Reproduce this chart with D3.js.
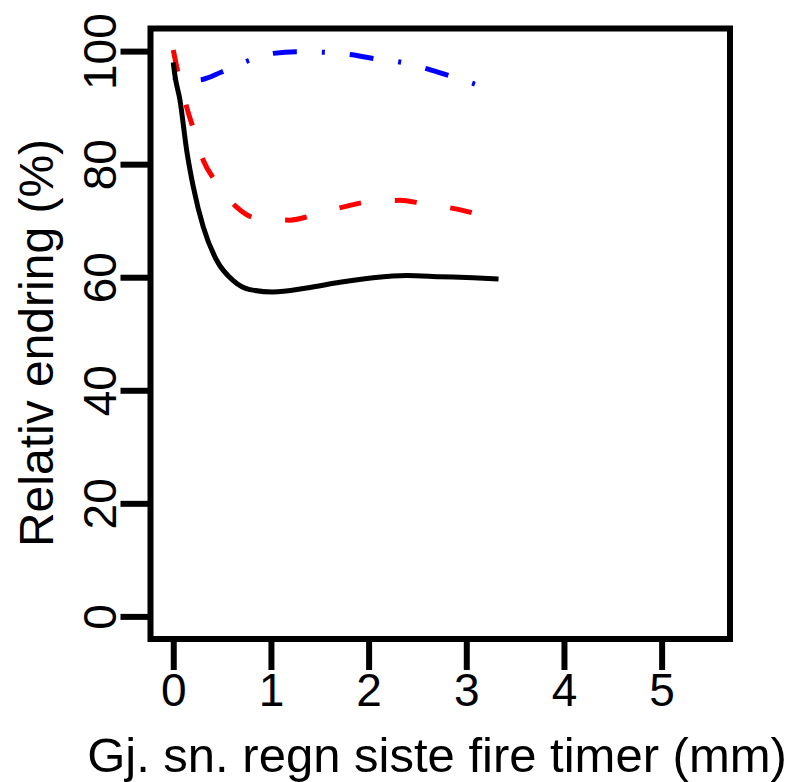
<!DOCTYPE html>
<html>
<head>
<meta charset="utf-8">
<script src="https://cdn.jsdelivr.net/npm/d3@7"></script>
<style>
  html, body { margin: 0; padding: 0; background: #ffffff; }
  text { font-family: "Liberation Sans", Arial, sans-serif; fill: #000; }
</style>
</head>
<body>
<div id="chart"></div>
<script>
// curves: x = mm rain (last four hours), y = relative change (%)
var solidX = [0, 0.017, 0.069, 0.137, 0.205, 0.307, 0.444, 0.614, 0.785, 1.02, 1.365, 1.706, 2.047, 2.389, 2.73, 3.07, 3.33];
var solidY = [98, 95.7, 91.3, 82.5, 76.0, 68.9, 63.0, 59.4, 57.8, 57.4, 58.1, 59.1, 59.9, 60.3, 60.1, 59.9, 59.7];

var dashX = [0, 0.051, 0.137, 0.205, 0.307, 0.427, 0.649, 0.836, 1.194, 1.416, 1.757, 1.98, 2.32, 2.56, 2.917, 3.17];
var dashY = [100.2, 96, 90.1, 86.3, 80.7, 77.1, 72.4, 70.5, 70.1, 70.9, 72.5, 73.3, 73.6, 73.0, 72.0, 70.9];

var dotdashX = [0, 0.15, 0.273, 0.495, 0.751, 1.024, 1.263, 1.535, 1.809, 2.047, 2.338, 2.61, 2.832, 3.1];
var dotdashY = [95.4, 94.8, 94.9, 96.3, 98.2, 99.6, 99.9, 99.8, 99.4, 98.7, 98.0, 96.8, 95.6, 94.1];

var xTicks = [0, 1, 2, 3, 4, 5];
var yTicks = [0, 20, 40, 60, 80, 100];

var xLabel = "Gj. sn. regn siste fire timer (mm)";
var yLabel = "Relativ endring (%)";

var W = 789, H = 782;
var box = {left: 150.5, right: 730, top: 28.5, bottom: 639};

var svg = d3.select("#chart").append("svg")
    .attr("width", W)
    .attr("height", H);
svg.append("rect").attr("width", W).attr("height", H).attr("fill", "#ffffff");

var xScale = d3.scaleLinear().domain([-0.233, 5.70]).range([box.left, box.right]);
var yScale = d3.scaleLinear().domain([-4, 104]).range([box.bottom, box.top]);

var line = d3.line()
    .x(function(d) { return xScale(d[0]); })
    .y(function(d) { return yScale(d[1]); })
    .curve(d3.curveMonotoneX);

var zip = function(xs, ys) {
  return xs.map(function(x, i) { return [x, ys[i]]; });
};

var series = [
  {pts: zip(dotdashX, dotdashY), color: "#0000ff", dash: "3,25,24,25"},
  {pts: zip(dashX, dashY), color: "#ff0000", dash: "22,34"},
  {pts: zip(solidX, solidY), color: "#000000", dash: null}
];

series.forEach(function(s) {
  svg.append("path")
    .attr("d", line(s.pts))
    .attr("fill", "none")
    .attr("stroke", s.color)
    .attr("stroke-width", 5)
    .attr("stroke-linecap", "butt")
    .attr("stroke-dasharray", s.dash);
});

// axes, R style: ticks outside the box
var xAxis = d3.axisBottom(xScale).tickValues(xTicks).tickSize(31).tickPadding(3).tickFormat(d3.format("d"));
var yAxis = d3.axisLeft(yScale).tickValues(yTicks).tickSize(30).tickPadding(5).tickFormat(d3.format("d"));

var gx = svg.append("g").attr("transform", "translate(0," + box.bottom + ")").call(xAxis);
gx.select(".domain").remove();
gx.selectAll(".tick line").attr("stroke", "#000").attr("stroke-width", 6);
gx.selectAll(".tick text")
  .attr("font-size", 46)
  .attr("dy", null)
  .attr("y", 67)
  .style("font-family", "'Liberation Sans', Arial, sans-serif");

var gy = svg.append("g").attr("transform", "translate(" + box.left + ",0)").call(yAxis);
gy.select(".domain").remove();
gy.selectAll(".tick line").attr("stroke", "#000").attr("stroke-width", 6);
gy.selectAll(".tick text")
  .attr("font-size", 46)
  .attr("x", null).attr("dy", null)
  .attr("text-anchor", "middle")
  .attr("transform", "translate(-35,0) rotate(-90)")
  .style("font-family", "'Liberation Sans', Arial, sans-serif");

svg.append("rect")
  .attr("x", box.left).attr("y", box.top)
  .attr("width", box.right - box.left).attr("height", box.bottom - box.top)
  .attr("fill", "none")
  .attr("stroke", "#000")
  .attr("stroke-width", 6);

svg.append("text")
  .attr("x", 437).attr("y", 772)
  .attr("text-anchor", "middle")
  .attr("font-size", 49)
  .text(xLabel);

svg.append("text")
  .attr("transform", "translate(53,343) rotate(-90)")
  .attr("text-anchor", "middle")
  .attr("font-size", 48)
  .text(yLabel);
</script>
</body>
</html>
